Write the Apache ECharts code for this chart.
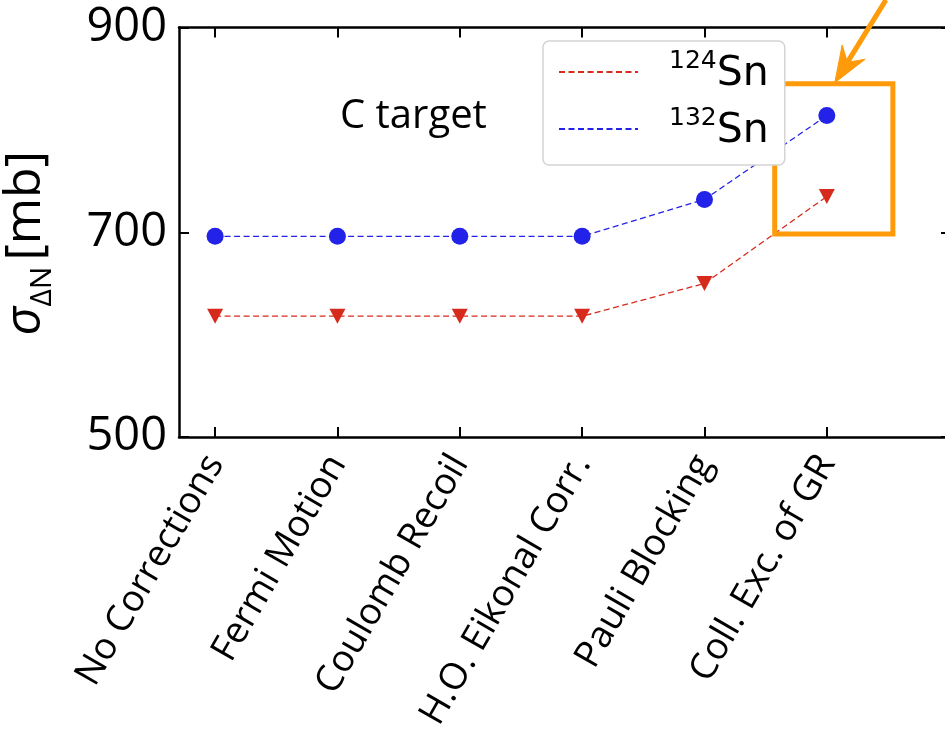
<!DOCTYPE html>
<html>
<head>
<meta charset="utf-8">
<script src="https://cdn.jsdelivr.net/npm/echarts@6/dist/echarts.min.js"></script>
<style>
  html, body { margin: 0; padding: 0; background: #ffffff; }
  #chart { width: 945px; height: 732px; }
</style>
</head>
<body>
<div id="chart"></div>
<script>
// Correction steps applied to the ΔN cross section
const categories = ['No Corrections', 'Fermi Motion', 'Coulomb Recoil', 'H.O. Eikonal Corr.', 'Pauli Blocking', 'Coll. Exc. of GR'];
// σ_ΔN [mb] on a C target
const sn124 = [618, 618, 618, 618, 650, 735];
const sn132 = [696, 696, 696, 696, 732, 814];
const yTicks = [500, 700, 900];
const catIndex = [0, 1, 2, 3, 4, 5];

// Highlight box around the last step and the arrow pointing at it (data coordinates)
const boxCorners = [[4.574, 845], [5.54, 698.3]];
const arrowTail = [5.483, 927];
const arrowTip = [5.065, 846];

const FONT = 'Open Sans';
const MATH_FONT = 'DejaVu Sans';
const BLUE = '#2222e8';
const RED = '#d62a1c';
const ORANGE = '#ff9a0a';
const frame = { show: true, onZero: false, lineStyle: { color: '#000', width: 2.5 } };
const tickIn = { inside: true, length: 10, lineStyle: { color: '#000', width: 2 } };

const chart = echarts.init(document.getElementById('chart'), null, { renderer: 'canvas' });

const option = {
  animation: false,
  backgroundColor: '#ffffff',
  textStyle: { fontFamily: FONT },
  grid: { left: 179, top: 27.5, right: -6, bottom: 295, containLabel: false, outerBoundsMode: 'none' },
  xAxis: [
    {
      type: 'value', position: 'bottom', min: -0.295, max: 6.015,
      axisLine: frame,
      axisTick: Object.assign({ customValues: catIndex }, tickIn),
      splitLine: { show: false },
      axisLabel: {
        customValues: catIndex, rotate: 60, margin: 21,
        fontFamily: FONT, fontSize: 37, color: '#000',
        formatter: v => categories[Math.round(v)]
      }
    },
    {
      type: 'value', position: 'top', min: -0.295, max: 6.015,
      axisLine: frame,
      axisTick: Object.assign({ customValues: catIndex }, tickIn),
      splitLine: { show: false },
      axisLabel: { show: false }
    }
  ],
  yAxis: [
    {
      type: 'value', position: 'left', min: 500, max: 900, interval: 200,
      axisLine: frame,
      axisTick: tickIn,
      splitLine: { show: false },
      axisLabel: {
        margin: 12, fontFamily: FONT, fontSize: 47, color: '#000',
        customValues: yTicks
      },
      name: '{s|σ}{sub|ΔN}{u|[mb]}',
      nameLocation: 'middle', nameRotate: 90, nameGap: 122,
      nameTextStyle: {
        color: '#000', fontFamily: FONT,
        rich: {
          s: { fontSize: 50, fontStyle: 'italic', fontFamily: FONT, color: '#000', lineHeight: 56, verticalAlign: 'top' },
          sub: { fontSize: 30, fontFamily: FONT, color: '#000', lineHeight: 56, verticalAlign: 'bottom', padding: [0, 6, 0, 0] },
          u: { fontSize: 50, fontFamily: FONT, color: '#000', lineHeight: 56, verticalAlign: 'top', padding: [0, 22, 0, 0] }
        }
      }
    },
    {
      type: 'value', position: 'right', min: 500, max: 900, interval: 200,
      axisLine: frame,
      axisTick: tickIn,
      splitLine: { show: false },
      axisLabel: { show: false }
    }
  ],
  legend: {
    orient: 'vertical', left: 543, top: 41, z: 20, zlevel: 1,
    padding: [8, 16, 13, 15],
    itemWidth: 79, itemHeight: 2, itemGap: 11,
    backgroundColor: '#ffffff', borderColor: '#d4d4d4', borderWidth: 1.5, borderRadius: 6,
    selectedMode: false,
    itemStyle: { color: 'rgba(0,0,0,0)', borderWidth: 0 },
    data: ['124Sn', '132Sn'],
    formatter: name => '{sup|' + name.slice(0, 3) + '}{b|Sn}',
    textStyle: {
      color: '#000', fontFamily: MATH_FONT,
      rich: {
        sup: { fontSize: 25, fontFamily: MATH_FONT, color: '#000', lineHeight: 46, verticalAlign: 'top', padding: [0, 0, 0, 26] },
        b: { fontSize: 41, fontFamily: MATH_FONT, color: '#000', lineHeight: 46, verticalAlign: 'bottom' }
      }
    }
  },
  series: [
    {
      name: '124Sn', type: 'line',
      data: sn124.map((v, i) => [i, v]),
      symbol: 'triangle', symbolRotate: 180, symbolSize: [16, 15],
      itemStyle: { color: RED },
      lineStyle: { color: RED, width: 1.3, type: [6, 3.5] },
      z: 2
    },
    {
      name: '132Sn', type: 'line',
      data: sn132.map((v, i) => [i, v]),
      symbol: 'circle', symbolSize: 17,
      itemStyle: { color: BLUE },
      lineStyle: { color: BLUE, width: 1.3, type: [6, 3.5] },
      z: 2
    }
  ]
};

chart.setOption(option);

// Annotations: panel label, highlight box and arrow
const p0 = chart.convertToPixel({ gridIndex: 0 }, boxCorners[0]);
const p1 = chart.convertToPixel({ gridIndex: 0 }, boxCorners[1]);
const tail = chart.convertToPixel({ gridIndex: 0 }, arrowTail);
const tip = chart.convertToPixel({ gridIndex: 0 }, arrowTip);
const dx = tail[0] - tip[0], dy = tail[1] - tip[1];
const len = Math.hypot(dx, dy);
const ux = dx / len, uy = dy / len, px = -uy, py = ux;
const headLen = 36, headHalf = 13.5, notch = 24;
const wingA = [tip[0] + ux * headLen + px * headHalf, tip[1] + uy * headLen + py * headHalf];
const wingB = [tip[0] + ux * headLen - px * headHalf, tip[1] + uy * headLen - py * headHalf];
const notchPt = [tip[0] + ux * notch, tip[1] + uy * notch];

chart.setOption({
  graphic: [
    {
      type: 'text', x: 340, y: 117, z: 50,
      style: { text: 'C target', fontFamily: FONT, fontSize: 40, fill: '#000', textVerticalAlign: 'middle', verticalAlign: 'middle' }
    },
    {
      type: 'group', zlevel: 2, z: 100,
      children: [
        {
          type: 'rect', z: 100,
          shape: { x: Math.min(p0[0], p1[0]), y: Math.min(p0[1], p1[1]), width: Math.abs(p1[0] - p0[0]), height: Math.abs(p1[1] - p0[1]) },
          style: { fill: 'none', stroke: ORANGE, lineWidth: 5 }
        },
        {
          type: 'line', z: 100,
          shape: { x1: tail[0], y1: tail[1], x2: notchPt[0], y2: notchPt[1] },
          style: { stroke: ORANGE, lineWidth: 5 }
        },
        {
          type: 'polygon', z: 100,
          shape: { points: [tip, wingA, notchPt, wingB] },
          style: { fill: ORANGE, stroke: ORANGE, lineWidth: 1 }
        }
      ]
    }
  ]
});
</script>
</body>
</html>
